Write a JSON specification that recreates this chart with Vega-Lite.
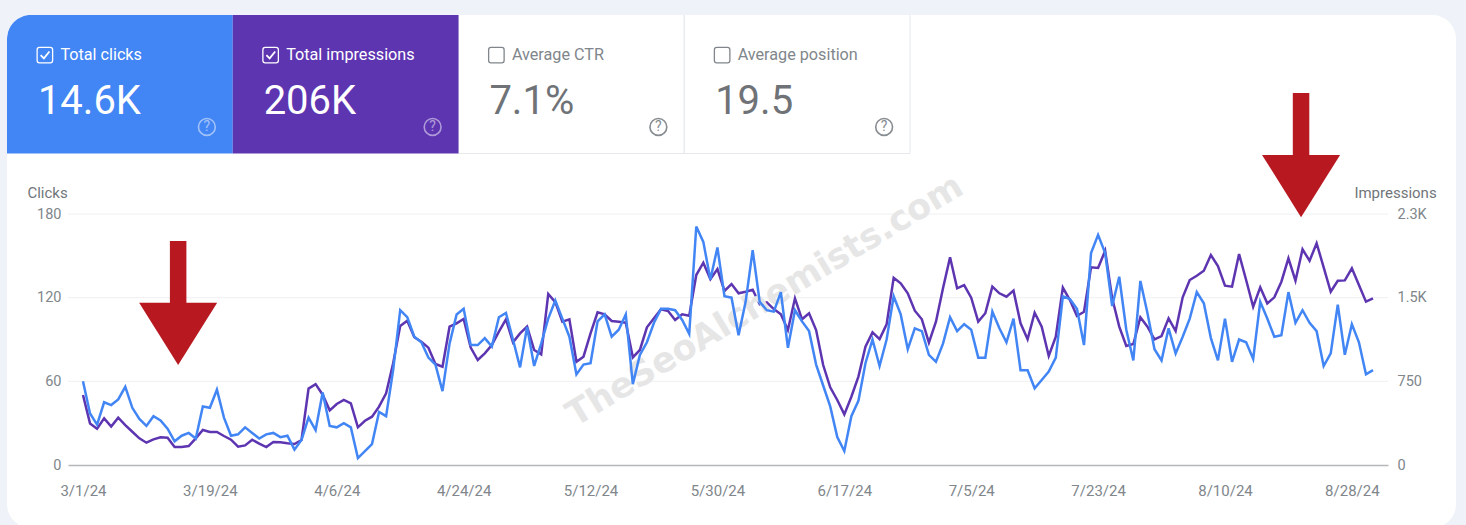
{
"$schema":"https://vega.github.io/schema/vega-lite/v6.json",
"autosize":{"type":"none"},
"width":1449,"height":513,
"padding":{"left":7,"top":15,"right":10,"bottom":0},
"background":"#eff3f9",
"view":{"fill":"#ffffff","stroke":null,"cornerRadius":24},
"config":{"font":"Roboto"},
"datasets":{
"cards":[
{"metric":"Total clicks","value":"14.6K","row":"cards","checked":true},
{"metric":"Total impressions","value":"206K","row":"cards","checked":true},
{"metric":"Average CTR","value":"7.1%","row":"cards","checked":false},
{"metric":"Average position","value":"19.5","row":"cards","checked":false}
],
"series":[
{"date":"2024-03-01","clicks":60,"impressions":627},{"date":"2024-03-02","clicks":37,"impressions":373},{"date":"2024-03-03","clicks":29,"impressions":326},{"date":"2024-03-04","clicks":45,"impressions":418},{"date":"2024-03-05","clicks":43,"impressions":344},{"date":"2024-03-06","clicks":47,"impressions":424},{"date":"2024-03-07","clicks":56,"impressions":358},{"date":"2024-03-08","clicks":41,"impressions":298},{"date":"2024-03-09","clicks":33,"impressions":239},{"date":"2024-03-10","clicks":28,"impressions":200},
{"date":"2024-03-11","clicks":35,"impressions":230},{"date":"2024-03-12","clicks":32,"impressions":248},{"date":"2024-03-13","clicks":26,"impressions":245},{"date":"2024-03-14","clicks":17,"impressions":161},{"date":"2024-03-15","clicks":21,"impressions":161},{"date":"2024-03-16","clicks":23,"impressions":170},{"date":"2024-03-17","clicks":19,"impressions":239},{"date":"2024-03-18","clicks":42,"impressions":314},{"date":"2024-03-19","clicks":41,"impressions":296},{"date":"2024-03-20","clicks":54,"impressions":296},
{"date":"2024-03-21","clicks":34,"impressions":260},{"date":"2024-03-22","clicks":21,"impressions":227},{"date":"2024-03-23","clicks":22,"impressions":164},{"date":"2024-03-24","clicks":27,"impressions":176},{"date":"2024-03-25","clicks":23,"impressions":227},{"date":"2024-03-26","clicks":19,"impressions":191},{"date":"2024-03-27","clicks":22,"impressions":161},{"date":"2024-03-28","clicks":23,"impressions":206},{"date":"2024-03-29","clicks":20,"impressions":203},{"date":"2024-03-30","clicks":21,"impressions":194},
{"date":"2024-03-31","clicks":11,"impressions":188},{"date":"2024-04-01","clicks":18,"impressions":224},{"date":"2024-04-02","clicks":34,"impressions":685},{"date":"2024-04-03","clicks":25,"impressions":725},{"date":"2024-04-04","clicks":52,"impressions":630},{"date":"2024-04-05","clicks":28,"impressions":490},{"date":"2024-04-06","clicks":27,"impressions":547},{"date":"2024-04-07","clicks":30,"impressions":583},{"date":"2024-04-08","clicks":27,"impressions":553},{"date":"2024-04-09","clicks":5,"impressions":338},
{"date":"2024-04-10","clicks":10,"impressions":397},{"date":"2024-04-11","clicks":15,"impressions":433},{"date":"2024-04-12","clicks":38,"impressions":523},{"date":"2024-04-13","clicks":35,"impressions":643},{"date":"2024-04-14","clicks":68,"impressions":912},{"date":"2024-04-15","clicks":111,"impressions":1246},{"date":"2024-04-16","clicks":106,"impressions":1293},{"date":"2024-04-17","clicks":92,"impressions":1145},{"date":"2024-04-18","clicks":88,"impressions":1105},{"date":"2024-04-19","clicks":77,"impressions":1052},
{"date":"2024-04-20","clicks":72,"impressions":905},{"date":"2024-04-21","clicks":53,"impressions":881},{"date":"2024-04-22","clicks":87,"impressions":1240},{"date":"2024-04-23","clicks":108,"impressions":1270},{"date":"2024-04-24","clicks":112,"impressions":1309},{"date":"2024-04-25","clicks":86,"impressions":1052},{"date":"2024-04-26","clicks":86,"impressions":941},{"date":"2024-04-27","clicks":91,"impressions":1001},{"date":"2024-04-28","clicks":85,"impressions":1076},{"date":"2024-04-29","clicks":106,"impressions":1195},
{"date":"2024-04-30","clicks":109,"impressions":1306},{"date":"2024-05-01","clicks":90,"impressions":1100},{"date":"2024-05-02","clicks":70,"impressions":1180},{"date":"2024-05-03","clicks":99,"impressions":1240},{"date":"2024-05-04","clicks":71,"impressions":1031},{"date":"2024-05-05","clicks":87,"impressions":992},{"date":"2024-05-06","clicks":105,"impressions":1533},{"date":"2024-05-07","clicks":118,"impressions":1460},{"date":"2024-05-08","clicks":105,"impressions":1285},{"date":"2024-05-09","clicks":92,"impressions":1306},
{"date":"2024-05-10","clicks":65,"impressions":926},{"date":"2024-05-11","clicks":72,"impressions":971},{"date":"2024-05-12","clicks":73,"impressions":1180},{"date":"2024-05-13","clicks":103,"impressions":1369},{"date":"2024-05-14","clicks":108,"impressions":1351},{"date":"2024-05-15","clicks":92,"impressions":1291},{"date":"2024-05-16","clicks":97,"impressions":1285},{"date":"2024-05-17","clicks":108,"impressions":1276},{"date":"2024-05-18","clicks":58,"impressions":965},{"date":"2024-05-19","clicks":79,"impressions":1031},
{"date":"2024-05-20","clicks":88,"impressions":1234},{"date":"2024-05-21","clicks":102,"impressions":1315},{"date":"2024-05-22","clicks":112,"impressions":1396},{"date":"2024-05-23","clicks":112,"impressions":1380},{"date":"2024-05-24","clicks":111,"impressions":1300},{"date":"2024-05-25","clicks":104,"impressions":1351},{"date":"2024-05-26","clicks":94,"impressions":1338},{"date":"2024-05-27","clicks":171,"impressions":1703},{"date":"2024-05-28","clicks":160,"impressions":1813},{"date":"2024-05-29","clicks":133,"impressions":1665},
{"date":"2024-05-30","clicks":156,"impressions":1757},{"date":"2024-05-31","clicks":121,"impressions":1560},{"date":"2024-06-01","clicks":120,"impressions":1622},{"date":"2024-06-02","clicks":93,"impressions":1539},{"date":"2024-06-03","clicks":117,"impressions":1553},{"date":"2024-06-04","clicks":154,"impressions":1571},{"date":"2024-06-05","clicks":117,"impressions":1440},{"date":"2024-06-06","clicks":111,"impressions":1458},{"date":"2024-06-07","clicks":110,"impressions":1398},{"date":"2024-06-08","clicks":124,"impressions":1351},
{"date":"2024-06-09","clicks":84,"impressions":1210},{"date":"2024-06-10","clicks":111,"impressions":1494},{"date":"2024-06-11","clicks":103,"impressions":1306},{"date":"2024-06-12","clicks":96,"impressions":1360},{"date":"2024-06-13","clicks":72,"impressions":1210},{"date":"2024-06-14","clicks":57,"impressions":896},{"date":"2024-06-15","clicks":42,"impressions":696},{"date":"2024-06-16","clicks":20,"impressions":583},{"date":"2024-06-17","clicks":10,"impressions":454},{"date":"2024-06-18","clicks":35,"impressions":612},
{"date":"2024-06-19","clicks":46,"impressions":792},{"date":"2024-06-20","clicks":73,"impressions":1060},{"date":"2024-06-21","clicks":90,"impressions":1189},{"date":"2024-06-22","clicks":71,"impressions":1129},{"date":"2024-06-23","clicks":90,"impressions":1261},{"date":"2024-06-24","clicks":121,"impressions":1679},{"date":"2024-06-25","clicks":108,"impressions":1629},{"date":"2024-06-26","clicks":83,"impressions":1539},{"date":"2024-06-27","clicks":98,"impressions":1383},{"date":"2024-06-28","clicks":96,"impressions":1306},
{"date":"2024-06-29","clicks":79,"impressions":1096},{"date":"2024-06-30","clicks":74,"impressions":1285},{"date":"2024-07-01","clicks":87,"impressions":1584},{"date":"2024-07-02","clicks":106,"impressions":1862},{"date":"2024-07-03","clicks":96,"impressions":1584},{"date":"2024-07-04","clicks":101,"impressions":1613},{"date":"2024-07-05","clicks":97,"impressions":1500},{"date":"2024-07-06","clicks":77,"impressions":1285},{"date":"2024-07-07","clicks":77,"impressions":1360},{"date":"2024-07-08","clicks":110,"impressions":1599},
{"date":"2024-07-09","clicks":98,"impressions":1539},{"date":"2024-07-10","clicks":88,"impressions":1509},{"date":"2024-07-11","clicks":105,"impressions":1563},{"date":"2024-07-12","clicks":68,"impressions":1270},{"date":"2024-07-13","clicks":68,"impressions":1127},{"date":"2024-07-14","clicks":55,"impressions":1365},{"date":"2024-07-15","clicks":61,"impressions":1240},{"date":"2024-07-16","clicks":67,"impressions":977},{"date":"2024-07-17","clicks":77,"impressions":1150},{"date":"2024-07-18","clicks":121,"impressions":1590},
{"date":"2024-07-19","clicks":119,"impressions":1479},{"date":"2024-07-20","clicks":112,"impressions":1336},{"date":"2024-07-21","clicks":86,"impressions":1374},{"date":"2024-07-22","clicks":152,"impressions":1772},{"date":"2024-07-23","clicks":165,"impressions":1766},{"date":"2024-07-24","clicks":152,"impressions":1921},{"date":"2024-07-25","clicks":114,"impressions":1494},{"date":"2024-07-26","clicks":135,"impressions":1240},{"date":"2024-07-27","clicks":97,"impressions":1067},{"date":"2024-07-28","clicks":75,"impressions":1085},
{"date":"2024-07-29","clicks":132,"impressions":1324},{"date":"2024-07-30","clicks":109,"impressions":1240},{"date":"2024-07-31","clicks":83,"impressions":1127},{"date":"2024-08-01","clicks":75,"impressions":1156},{"date":"2024-08-02","clicks":98,"impressions":1315},{"date":"2024-08-03","clicks":80,"impressions":1201},{"date":"2024-08-04","clicks":92,"impressions":1503},{"date":"2024-08-05","clicks":105,"impressions":1658},{"date":"2024-08-06","clicks":124,"impressions":1697},{"date":"2024-08-07","clicks":116,"impressions":1742},
{"date":"2024-08-08","clicks":91,"impressions":1882},{"date":"2024-08-09","clicks":75,"impressions":1784},{"date":"2024-08-10","clicks":105,"impressions":1607},{"date":"2024-08-11","clicks":74,"impressions":1599},{"date":"2024-08-12","clicks":90,"impressions":1891},{"date":"2024-08-13","clicks":88,"impressions":1658},{"date":"2024-08-14","clicks":76,"impressions":1419},{"date":"2024-08-15","clicks":117,"impressions":1593},{"date":"2024-08-16","clicks":105,"impressions":1449},{"date":"2024-08-17","clicks":92,"impressions":1503},
{"date":"2024-08-18","clicks":93,"impressions":1643},{"date":"2024-08-19","clicks":124,"impressions":1853},{"date":"2024-08-20","clicks":102,"impressions":1652},{"date":"2024-08-21","clicks":111,"impressions":1933},{"date":"2024-08-22","clicks":102,"impressions":1831},{"date":"2024-08-23","clicks":96,"impressions":1987},{"date":"2024-08-24","clicks":71,"impressions":1772},{"date":"2024-08-25","clicks":80,"impressions":1553},{"date":"2024-08-26","clicks":115,"impressions":1652},{"date":"2024-08-27","clicks":79,"impressions":1655},
{"date":"2024-08-28","clicks":101,"impressions":1763},{"date":"2024-08-29","clicks":88,"impressions":1613},{"date":"2024-08-30","clicks":65,"impressions":1464},{"date":"2024-08-31","clicks":68,"impressions":1494}
],
"arrows":[
{"at":"2024-03-14T12:00:00Z","top":160.7,"bottom":115,"head":94},
{"at":"2024-08-20T19:00:00Z","top":266.8,"bottom":221,"head":200}
],
"grid":[
{"value":750,"from":"2024-02-27T21:00:00Z","to":"2024-09-02T03:00:00Z"},
{"value":1500,"from":"2024-02-27T21:00:00Z","to":"2024-09-02T03:00:00Z"},
{"value":2250,"from":"2024-02-27T21:00:00Z","to":"2024-09-02T03:00:00Z"}
],
"mark":[
{"text":"TheSeoAlchemists.com","at":"2024-06-05T17:00:00Z","clicks":118}
]
},
"resolve":{"scale":{"x":"independent","y":"independent"},"axis":{"x":"independent","y":"independent"}},
"layer":[
{
"data":{"name":"cards"},
"resolve":{"scale":{"color":"independent"}},
"encoding":{
"x":{"field":"metric","type":"nominal","axis":null,"sort":null,"scale":{"type":"band","domain":["Total clicks","Total impressions","Average CTR","Average position"],"range":[0,903],"paddingInner":0,"paddingOuter":0}},
"y":{"field":"row","type":"nominal","axis":null,"scale":{"type":"band","domain":["cards"],"range":[-1,138.5],"paddingInner":0,"paddingOuter":0}}
},
"layer":[
{"transform":[{"filter":"!datum.checked"}],"mark":{"type":"rect","fill":"#ffffff","stroke":"#e6e8eb","strokeWidth":1,"clip":true}},
{"transform":[{"filter":"datum.metric==='Total clicks'"}],"mark":{"type":"rect","fill":"#4285f4","cornerRadiusTopLeft":24,"clip":true}},
{"transform":[{"filter":"datum.metric==='Total impressions'"}],"mark":{"type":"rect","fill":"#5e35b1","clip":true}},
{"mark":{"type":"text","align":"left","baseline":"middle","dx":-59.5,"dy":-28.7,"fontSize":16.2},
 "encoding":{"text":{"field":"metric"},"color":{"field":"checked","type":"nominal","legend":null,"scale":{"domain":[true,false],"range":["#ffffff","#80868b"]}}}},
{"mark":{"type":"text","align":"left","baseline":"alphabetic","dx":-82,"dy":30,"fontSize":40},
 "encoding":{"text":{"field":"value"},"color":{"field":"checked","type":"nominal","legend":null,"scale":{"domain":[true,false],"range":["#ffffff","#6f7377"]}}}},
{"mark":{"type":"point","filled":false,"xOffset":-75,"yOffset":-28.7,"strokeWidth":1.3,"opacity":1,"shape":"M-0.7,-1H0.7Q1,-1 1,-0.7V0.7Q1,1 0.7,1H-0.7Q-1,1 -1,0.7V-0.7Q-1,-1 -0.7,-1Z"},
 "encoding":{"size":{"value":240},"color":{"field":"checked","type":"nominal","legend":null,"scale":{"domain":[true,false],"range":["#ffffff","#80868b"]}}}},
{"transform":[{"filter":"datum.checked"}],"mark":{"type":"point","filled":false,"xOffset":-75,"yOffset":-28.7,"size":170,"strokeWidth":1.8,"color":"#ffffff","opacity":1,"shape":"M-0.65,0L-0.15,0.5L0.7,-0.55"}},
{"mark":{"type":"point","filled":false,"shape":"circle","xOffset":87,"yOffset":43.2,"size":283,"strokeWidth":1.6},
 "encoding":{"opacity":{"field":"checked","type":"nominal","legend":null,"scale":{"domain":[true,false],"range":[0.5,0.95]}},"color":{"field":"checked","type":"nominal","legend":null,"scale":{"domain":[true,false],"range":["#ffffff","#80868b"]}}}},
{"mark":{"type":"text","align":"center","baseline":"middle","dx":87,"dy":43.7,"fontSize":14,"fontWeight":"normal","text":"?"},
 "encoding":{"opacity":{"field":"checked","type":"nominal","legend":null,"scale":{"domain":[true,false],"range":[0.5,0.95]}},"color":{"field":"checked","type":"nominal","legend":null,"scale":{"domain":[true,false],"range":["#ffffff","#80868b"]}}}}
]
},
{
"resolve":{"scale":{"y":"independent"},"axis":{"x":"independent","y":"independent"}},
"layer":[
{
"layer":[
{"data":{"name":"grid"},"mark":{"type":"rule","stroke":"#eff0f2","strokeWidth":1},
 "encoding":{
 "x":{"field":"from","type":"temporal","axis":null,"scale":{"type":"utc","domain":[{"year":2024,"month":2,"date":27,"hours":21,"utc":true},{"year":2024,"month":9,"date":2,"hours":3,"utc":true}],"range":[61,1381]}},
 "x2":{"field":"to"},
 "y":{"field":"value","type":"quantitative","scale":{"domain":[0,2250],"range":[450,199],"nice":false},
  "axis":{"orient":"right","offset":-68,"values":[0,750,1500,2250],"labelExpr":"datum.value>=1500?(datum.value==1500?'1.5K':'2.3K'):datum.value","domain":false,"ticks":false,"grid":false,"labelPadding":9,"labelFontSize":14.5,"labelColor":"#80868b","labelFont":"Roboto","title":"Impressions","titleAngle":0,"titleAlign":"center","titleBaseline":"middle","titleX":7,"titleY":177,"titleFontSize":15,"titleFontWeight":"normal","titleColor":"#70757a","titleFont":"Roboto"}}
 }},
{"data":{"name":"series"},"mark":{"type":"line","stroke":"#5e35b1","strokeWidth":2.5,"interpolate":"linear"},
 "encoding":{"x":{"field":"date","type":"temporal","axis":null},"y":{"field":"impressions","type":"quantitative"}}}
]
},
{
"resolve":{"axis":{"x":"independent"}},
"layer":[
{"data":{"name":"mark"},"mark":{"type":"text","font":"DejaVu Sans","fontWeight":"bold","fontSize":35,"angle":-31,"align":"center","baseline":"middle","fill":"#e6e6e6"},
 "encoding":{"x":{"field":"at","type":"temporal","axis":null},"y":{"field":"clicks","type":"quantitative"},"text":{"field":"text"}}},
{"data":{"name":"series"},"mark":{"type":"line","stroke":"#4285f4","strokeWidth":2.5,"interpolate":"linear"},
 "encoding":{
 "x":{"field":"date","type":"temporal","axis":{"orient":"bottom","offset":-63,"values":[{"year":2024,"month":3,"date":1,"utc":true},{"year":2024,"month":3,"date":19,"utc":true},{"year":2024,"month":4,"date":6,"utc":true},{"year":2024,"month":4,"date":24,"utc":true},{"year":2024,"month":5,"date":12,"utc":true},{"year":2024,"month":5,"date":30,"utc":true},{"year":2024,"month":6,"date":17,"utc":true},{"year":2024,"month":7,"date":5,"utc":true},{"year":2024,"month":7,"date":23,"utc":true},{"year":2024,"month":8,"date":10,"utc":true},{"year":2024,"month":8,"date":28,"utc":true}],"labelExpr":"utcFormat(datum.value,'%-m/%-d/%y')","ticks":false,"grid":false,"domain":true,"domainColor":"#b4b6b9","domainWidth":1.5,"labelPadding":18.5,"labelFontSize":15,"labelColor":"#80868b","labelFont":"Roboto","labelOverlap":false,"title":null}},
 "y":{"field":"clicks","type":"quantitative","scale":{"domain":[0,180],"range":[450,199],"nice":false},
  "axis":{"orient":"left","offset":-61,"values":[0,60,120,180],"domain":false,"ticks":false,"grid":false,"labelPadding":7,"labelFontSize":14.5,"labelColor":"#80868b","labelFont":"Roboto","title":"Clicks","titleAngle":0,"titleAlign":"center","titleBaseline":"middle","titleX":-21,"titleY":177,"titleFontSize":15,"titleFontWeight":"normal","titleColor":"#70757a","titleFont":"Roboto"}}
 }},
{"data":{"name":"arrows"},"mark":{"type":"rule","stroke":"#b81820","strokeWidth":16.5},
 "encoding":{"x":{"field":"at","type":"temporal","axis":null},"y":{"field":"top","type":"quantitative"},"y2":{"field":"bottom"}}},
{"data":{"name":"arrows"},"mark":{"type":"point","filled":true,"fill":"#b81820","stroke":null,"opacity":1,"size":6084,"shape":"M-1,-0.8L1,-0.8L0,0.8Z"},
 "encoding":{"x":{"field":"at","type":"temporal","axis":null},"y":{"field":"head","type":"quantitative"}}}
]
}
]
}
]
}
